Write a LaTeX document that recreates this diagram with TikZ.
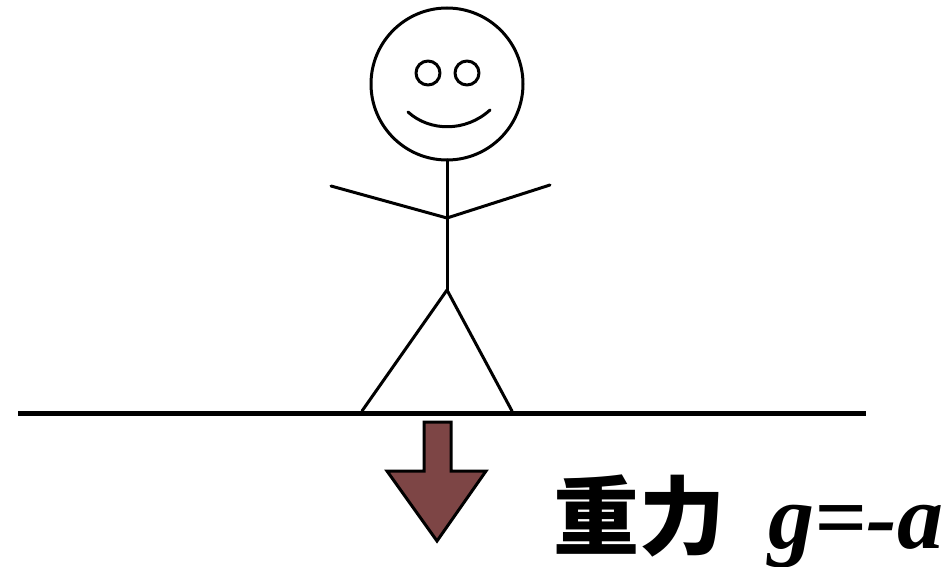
\documentclass[tikz,border=0pt]{standalone}
\usepackage{fontspec}
\setmainfont{Liberation Serif}
\newfontfamily\cjk{Noto Sans CJK SC}
\begin{document}
\begin{tikzpicture}[x=1pt,y=-1pt,
  limb/.style={line width=3pt,line cap=round,line join=round},
  ground/.style={line width=5pt},
  forcearrow/.style={draw=black,line width=3pt,line join=miter,fill={rgb,255:red,125;green,69;blue,69}},
  label/.style={inner sep=0pt,anchor=base west}]
  \useasboundingbox (0,0) rectangle (948,567);
  % head
  \coordinate (hc) at (447,84);
  \draw[limb] (hc) circle (76);
  \draw[limb] (428,73) circle (12);
  \draw[limb] (467,73) circle (12);
  \draw[limb] (408,112) .. controls (430,132) and (466,132) .. (490,110);
  % body
  \coordinate (neck) at (447,160);
  \coordinate (shoulder) at (447,218);
  \coordinate (hip) at (447,290);
  \coordinate (lhand) at (331,186);
  \coordinate (rhand) at (550,185);
  \coordinate (lfoot) at (362,411);
  \coordinate (rfoot) at (512,411);
  \draw[limb] (neck) -- (hip);
  \draw[limb] (lhand) -- (shoulder) -- (rhand);
  \draw[limb] (lfoot) -- (hip) -- (rfoot);
  % ground
  \coordinate (gl) at (18,413);
  \coordinate (gr) at (866,413);
  \draw[ground] (gl) -- (gr);
  % gravity arrow
  \draw[forcearrow] (424,422) -- (451,422) -- (451,471) -- (486,471) -- (437,541)
    -- (387,471) -- (424,471) -- cycle;
  % label
  \node[label] (lbl) at (553,548) {\cjk\bfseries\fontsize{86}{86}\selectfont 重力};
  \node[label] (eq) at (768,548) {\bfseries\itshape\fontsize{92}{92}\selectfont g=-a};
\end{tikzpicture}
\end{document}
